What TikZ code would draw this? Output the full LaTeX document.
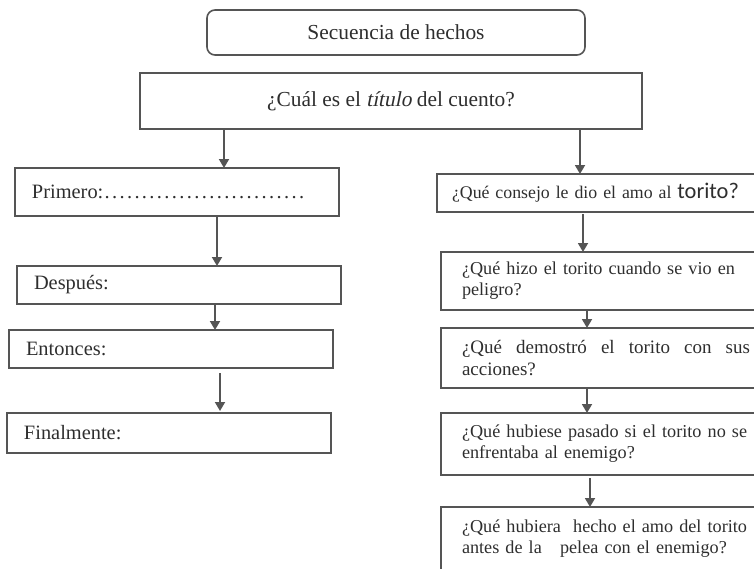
\documentclass[tikz,border=0pt]{standalone}
\usepackage{fontspec}
\setmainfont{Liberation Serif}
\newfontfamily\calib{Carlito}
\newfontfamily\slserif{Liberation Serif}[FakeSlant=0.2]
\usetikzlibrary{arrows.meta}
\definecolor{linec}{HTML}{555555}
\definecolor{txt}{HTML}{2e2e2e}
\tikzset{
  box/.style={draw=linec, line width=0.8pt, anchor=north west, inner ysep=0pt, outer sep=0pt, text=txt},
  lbox/.style={box, inner xsep=8.5pt, text width=145pt, align=left, font=\fontsize{10.2}{12}\selectfont},
  rbox/.style={box, inner xsep=10.5pt, text width=144pt, align=left, font=\fontsize{9.1}{10.6}\selectfont},
  arr/.style={-{Triangle[length=4.5pt,width=5pt]}, draw=linec, line width=0.9pt}
}
\begin{document}
\begin{tikzpicture}[x=0.5pt,y=-0.5pt]
\useasboundingbox (0,0) rectangle (754,568);
\clip (0,0) rectangle (754,568);
% top
\node[box, rounded corners=4pt, minimum width=189pt, minimum height=22.5pt, inner xsep=0pt, font=\fontsize{10.7}{13}\selectfont] (title) at (207,10) {Secuencia de hechos};
\node[box, minimum width=251pt, minimum height=28pt, inner xsep=0pt, font=\fontsize{10.7}{13}\selectfont] (q) at (140,73) {¿Cuál es el {\slserif título} del cuento?};
% left column
\node[lbox, minimum height=24pt] (p1) at (15,168) {Primero:\hbox to 101pt{\leaders\hbox to 3.74pt{\hss.\hss}\hfill}};
\node[lbox, minimum height=19pt] (p2) at (17,266) {Después:};
\node[lbox, minimum height=19pt] (p3) at (9,330) {Entonces:};
\node[lbox, minimum height=20pt] (p4) at (7,413) {Finalmente:};
% right column
\node[box, inner xsep=7.5pt, text width=151.5pt, align=left, minimum height=19pt, font=\fontsize{8.9}{10.6}\selectfont] (r1) at (437,174) {¿Qué consejo le dio el amo al {\calib\fontsize{11.2}{12}\selectfont torito?}};
\node[rbox, minimum height=29pt] (r2) at (441,252) {¿Qué hizo el torito cuando se vio en\\peligro?};
\node[rbox, minimum height=30pt, align=justify, font=\fontsize{9.5}{11}\selectfont] (r3) at (441,328) {¿Qué demostró el torito con sus \mbox{acciones?}};
\node[rbox, minimum height=31pt] (r4) at (441,413) {¿Qué hubiese pasado si el torito no se\\enfrentaba al enemigo?};
\node[rbox, minimum height=31.5pt] (r5) at (441,507) {¿Qué hubiera\ \ hecho el amo del torito\\antes de la\ \ \ pelea con el enemigo?};
% arrow columns
\coordinate (a1) at (224,0);
\coordinate (a2) at (217,0);
\coordinate (a3) at (215,0);
\coordinate (a4) at (220,0);
\coordinate (b1) at (580,0);
\coordinate (b2) at (583,0);
\coordinate (b3) at (587,0);
\coordinate (b4) at (587,0);
\coordinate (b5) at (590,0);
\draw[arr] (q.south -| a1) -- (p1.north -| a1);
\draw[arr] (p1.south -| a2) -- (p2.north -| a2);
\draw[arr] (p2.south -| a3) -- (p3.north -| a3);
\draw[arr] ([yshift=-2.5pt]p3.south -| a4) -- ([yshift=1pt]p4.north -| a4);
\draw[arr] (q.south -| b1) -- (r1.north -| b1);
\draw[arr] ([yshift=-1pt]r1.south -| b2) -- (r2.north -| b2);
\draw[arr] (r2.south -| b3) -- (r3.north -| b3);
\draw[arr] (r3.south -| b4) -- (r4.north -| b4);
\draw[arr] ([yshift=-1.5pt]r4.south -| b5) -- (r5.north -| b5);
\end{tikzpicture}
\end{document}
